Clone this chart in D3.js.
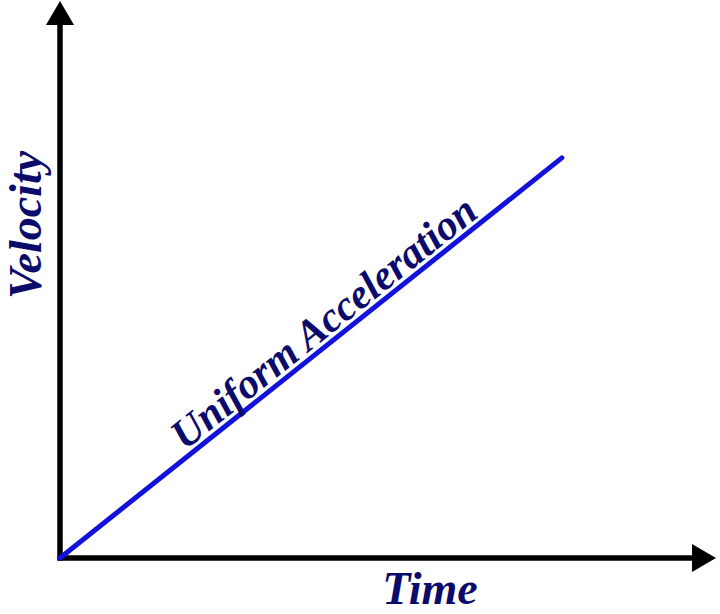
<!DOCTYPE html>
<html>
<head>
<meta charset="utf-8">
<script src="https://cdn.jsdelivr.net/npm/d3@7"></script>
<style>
  html, body { margin: 0; padding: 0; background: #fff; }
  svg { display: block; }
</style>
</head>
<body>
<div id="chart"></div>
<script>
// data
const timeValues = [0, 7.65];
const velocityValues = [0, 7.17];
const axisLabels = ["Time", "Velocity"];
const lineLabel = "Uniform Acceleration";

const width = 720, height = 614;
const margin = { top: 0, right: 4, bottom: 56, left: 60 };

const svg = d3.select("#chart")
    .append("svg")
    .attr("width", width)
    .attr("height", height);

const xScale = d3.scaleLinear()
    .domain([0, 10])
    .range([margin.left, width - margin.right]);

const yScale = d3.scaleLinear()
    .domain([0, 10])
    .range([height - margin.bottom, margin.top]);

const labelFont = "'Liberation Serif', 'Times New Roman', serif";
const navy = "#0b0b6b";

// axes (no ticks, just thick lines)
const x0 = xScale(0), y0 = yScale(0);
const xEnd = xScale.range()[1], yEnd = yScale.range()[1] + 1;
const headLen = 24, headHalf = 14;

const xAxis = svg.append("g")
    .attr("transform", `translate(0,${y0})`)
    .call(d3.axisBottom(xScale).ticks(0).tickSizeOuter(0));
xAxis.select(".domain")
    .attr("d", `M${x0 - 2.5},0H${xEnd - headLen + 2}`)
    .attr("stroke", "#000")
    .attr("stroke-width", 5.5);

const yAxis = svg.append("g")
    .attr("transform", `translate(${x0},0)`)
    .call(d3.axisLeft(yScale).ticks(0).tickSizeOuter(0));
yAxis.select(".domain")
    .attr("d", `M0,${y0 + 2.5}V${yEnd + headLen - 2}`)
    .attr("stroke", "#000")
    .attr("stroke-width", 5.5);

// arrowheads
svg.append("path")
    .attr("d", `M${xEnd},${y0}L${xEnd - headLen},${y0 - headHalf}L${xEnd - headLen},${y0 + headHalf}Z`)
    .attr("fill", "#000");
svg.append("path")
    .attr("d", `M${x0},${yEnd}L${x0 - headHalf},${yEnd + headLen}L${x0 + headHalf},${yEnd + headLen}Z`)
    .attr("fill", "#000");

// the velocity-time line
const points = timeValues.map((t, i) => [t, velocityValues[i]]);
const line = d3.line()
    .x(d => xScale(d[0]))
    .y(d => yScale(d[1]));

svg.append("path")
    .datum(points)
    .attr("d", line)
    .attr("fill", "none")
    .attr("stroke", "#1212dc")
    .attr("stroke-width", 5)
    .attr("stroke-linecap", "round");

// label along the line
const px0 = xScale(timeValues[0]), py0 = yScale(velocityValues[0]);
const px1 = xScale(timeValues[1]), py1 = yScale(velocityValues[1]);
const angle = Math.atan2(py1 - py0, px1 - px0) * 180 / Math.PI;
const lineLen = Math.hypot(px1 - px0, py1 - py0);
const along = 0.55 * lineLen;
const rad = angle * Math.PI / 180;

svg.append("text")
    .attr("transform", `translate(${px0 + along * Math.cos(rad)},${py0 + along * Math.sin(rad)}) rotate(${angle})`)
    .attr("y", -6)
    .attr("text-anchor", "middle")
    .attr("font-family", labelFont)
    .attr("font-weight", "bold")
    .attr("font-style", "italic")
    .attr("font-size", "42px")
    .attr("fill", navy)
    .text(lineLabel);

// axis titles
svg.append("text")
    .attr("x", 430)
    .attr("y", 604)
    .attr("text-anchor", "middle")
    .attr("font-family", labelFont)
    .attr("font-weight", "bold")
    .attr("font-style", "italic")
    .attr("font-size", "46px")
    .attr("fill", navy)
    .text(axisLabels[0]);

svg.append("text")
    .attr("transform", "translate(41,225) rotate(-90)")
    .attr("text-anchor", "middle")
    .attr("font-family", labelFont)
    .attr("font-weight", "bold")
    .attr("font-style", "italic")
    .attr("font-size", "46px")
    .attr("fill", navy)
    .text(axisLabels[1]);
</script>
</body>
</html>
